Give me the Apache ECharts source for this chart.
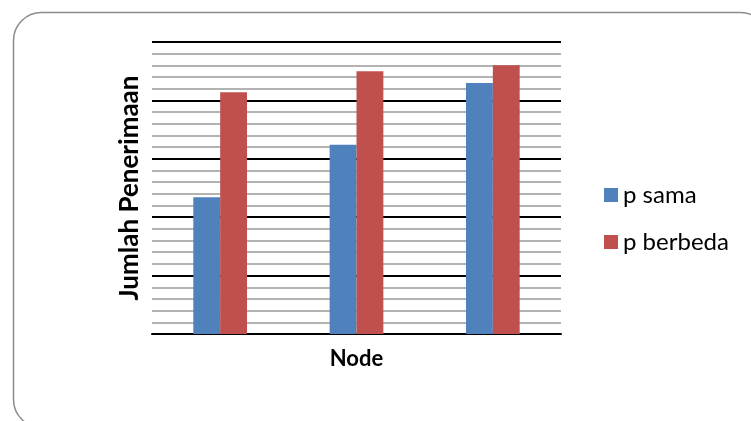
<!DOCTYPE html>
<html>
<head>
<meta charset="utf-8">
<script src="https://cdn.jsdelivr.net/npm/echarts@6/dist/echarts.min.js"></script>
<style>
  html, body { margin: 0; padding: 0; background: #fff; }
  #chart { width: 751px; height: 421px; }
</style>
</head>
<body>
<div id="chart"></div>
<script>
// Received packet counts per node, for equal and different p values
const nodes = ['Node 1', 'Node 2', 'Node 3'];
const pSama = [117, 162, 215];
const pBerbeda = [207, 225, 230];
const seriesNames = ['p sama', 'p berbeda'];
const axisMax = 250;
const majorStep = 50;

const FONT = 'Lato';

const chart = echarts.init(document.getElementById('chart'));
chart.setOption({
  animation: false,
  backgroundColor: '#fff',
  color: ['#4f81bd', '#c0504d'],
  graphic: [{
    type: 'rect',
    shape: { x: 13.5, y: 12.5, width: 755, height: 415, r: 28 },
    style: { fill: 'none', stroke: '#8c8c8c', lineWidth: 1.5 },
    silent: true
  }],
  grid: { left: 152, top: 42, width: 409, height: 292 },
  legend: {
    orient: 'vertical',
    left: 599,
    top: 178,
    icon: 'rect',
    itemWidth: 14,
    itemHeight: 14,
    itemGap: 23,
    textStyle: { fontFamily: FONT, fontSize: 24, color: '#000' },
    data: seriesNames
  },
  xAxis: {
    type: 'category',
    data: nodes,
    name: 'Node',
    nameLocation: 'middle',
    nameGap: 14,
    nameTextStyle: { fontFamily: FONT, fontWeight: 'bold', fontSize: 22, color: '#000' },
    axisLine: { lineStyle: { color: '#000', width: 2 } },
    axisTick: { show: false },
    axisLabel: { show: false }
  },
  yAxis: {
    type: 'value',
    min: 0,
    max: axisMax,
    interval: majorStep,
    name: 'Jumlah Penerimaan',
    nameLocation: 'middle',
    nameGap: 9,
    nameTextStyle: { fontFamily: FONT, fontWeight: 'bold', fontSize: 26, color: '#000' },
    axisLine: { show: false },
    axisTick: { show: false },
    axisLabel: { show: false },
    splitLine: { lineStyle: { color: '#000', width: 2 } },
    minorTick: { show: false, splitNumber: 5 },
    minorSplitLine: { show: true, lineStyle: { color: '#b3b3b3', width: 2 } }
  },
  series: [
    { name: seriesNames[0], type: 'bar', data: pSama, barGap: '0%', barCategoryGap: '60.6%' },
    { name: seriesNames[1], type: 'bar', data: pBerbeda, barGap: '0%', barCategoryGap: '60.6%' }
  ]
});
</script>
</body>
</html>
